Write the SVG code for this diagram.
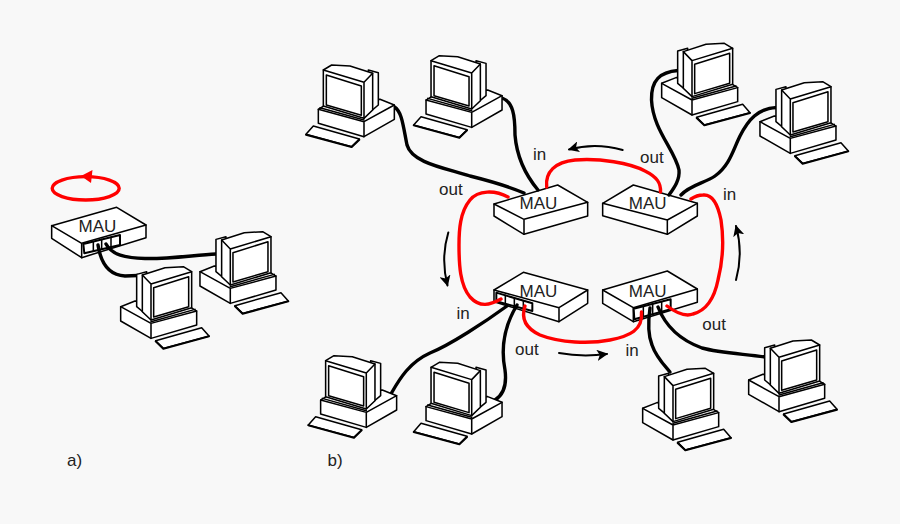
<svg xmlns="http://www.w3.org/2000/svg" width="900" height="524" viewBox="0 0 900 524">
<style>
text{font-family:"Liberation Sans",Arial,sans-serif;font-size:17px;fill:#222}
.s{fill:#fff;stroke:#000;stroke-width:4.6;stroke-linejoin:round;stroke-linecap:round}
.n{fill:none;stroke:#000;stroke-width:4.6;stroke-linejoin:round;stroke-linecap:round}
.th{fill:none;stroke:#000;stroke-width:6;stroke-linecap:round;stroke-linejoin:round}
.p{fill:#fff;stroke:#000;stroke-width:6;stroke-linejoin:round}
.cable{fill:none;stroke:#000;stroke-width:3.4;stroke-linecap:round}
.ring{fill:none;stroke:#f00;stroke-width:3.4;stroke-linecap:round}
.flow{fill:none;stroke:#000;stroke-width:2;stroke-linecap:round;marker-end:url(#ah)}
.z{transform:translate(430px,140px) scale(.33333)}
</style>
<defs>
<marker id="ah" viewBox="0 0 10 10" refX="9" refY="5" markerWidth="5.6" markerHeight="5.6" orient="auto" markerUnits="strokeWidth"><path d="M0,0L10,5L0,10L2.5,5Z" fill="#000"/></marker>
<g id="pc">
<path class="s" d="M18,253L40,228L178,267L155,290Z"/>
<path class="th" d="M18,254L155,291L178,269"/>
<path class="s" d="M55,178L55,220L192,260L283,208L283,165L240,148L100,150Z"/>
<path class="n" d="M55,178L192,215L283,165M192,215V260"/>
<path class="s" d="M205,60L235,68V165L205,190Z"/>
<path class="s" d="M70,60L95,45L150,48L218,70V180L192,205L70,168Z"/>
<path class="n" d="M70,60L192,97L218,70M192,97V205"/>
<path class="s" d="M79,75L184,108V196L79,165Z"/>
<path class="n" d="M60,173L192,210"/>
</g>
</defs>
<rect width="900" height="524" fill="#f8f8f8"/>

<g id="mau-a">
<g transform="translate(30,160) scale(.33333)">
<path class="s" d="M65,197L260,142L348,195V233L155,293L65,235Z"/>
<path class="n" d="M65,197L155,250L348,195M155,250V293"/>
<path class="p" d="M160,252L270,225V255L163,280Z"/>
<path class="n" d="M190,245V273M215,238V267M243,232V260"/>
</g>
<text x="78.5" y="232">MAU</text>
</g>
<g id="mau-tl">
<g class="z">
<path class="s" d="M192,192L383,135L473,187V228L282,283L192,228Z"/>
<path class="n" d="M192,192L282,238L473,187M282,238V283"/>
</g>
<text x="519.5" y="208.5">MAU</text>
</g>
<g id="mau-tr">
<g class="z">
<path class="s" d="M518,190L610,135L802,190V228L712,283L518,227Z"/>
<path class="n" d="M518,190L712,240L802,190M712,240V283"/>
</g>
<text x="628.8" y="208.5">MAU</text>
</g>
<g id="mau-bl">
<g class="z">
<path class="s" d="M192,450L280,397L473,450V490L387,545L192,485Z"/>
<path class="n" d="M192,450L387,503L473,450M387,503V545"/>
<path class="p" d="M199,458L307,490V513L199,484Z"/>
<path class="n" d="M226,466V492M253,474V500M280,482V507"/>
</g>
<text x="519.5" y="297">MAU</text>
</g>
<g id="mau-br">
<g class="z">
<path class="s" d="M518,450L712,393L802,447V487L610,545L518,490Z"/>
<path class="n" d="M518,450L610,503L802,447M610,503V545"/>
<path class="p" d="M611,506L722,478V508L613,538Z"/>
<path class="n" d="M640,499V530M668,492V523M695,485V515"/>
</g>
<text x="628.8" y="297">MAU</text>
</g>

<g id="connectors">
<path class="cable" d="M98,245C100,258 106,275 125,276L138,275.5"/>
<path class="cable" d="M106,244C112,255 125,258 145,258.5C170,259 195,255 216,254"/>
<path class="cable" d="M394.5,107C402,112 403,125 407,145C412,163 445,168 470,176C490,181 510,187 524,193"/>
<path class="cable" d="M502,98C513,102 515,115 515,135C517,160 528,178 538,190"/>
<path class="cable" d="M678,70.5C660,72 651,80 651.5,100C653,130 675,150 679,170C680,180 674,188 669,195"/>
<path class="cable" d="M777,107.5C758,108 748,120 740,136C733,150 730,165 715,176C705,183 690,185 681,195"/>
<path class="cable" d="M391.5,393C400,378 410,362 430,353C450,345 485,322 507,306"/>
<path class="cable" d="M495,400C503,395 507,385 505,370C500,345 505,325 517,305"/>
<path class="cable" d="M650,308C648,322 648,335 652,345C656,357 664,365 670,372"/>
<path class="cable" d="M658,307C665,325 680,340 702,348C720,353 745,354 765,357"/>
<path class="ring" d="M546.7,187C545,172 555,162 575,160C600,158 630,163 645,171C657,177 661,183 660.5,192"/>
<path class="ring" d="M508,197C495,190 478,190 470,200C460,212 459,230 459,245C459,265 460,285 470,297C480,308 490,305 501,299"/>
<path class="ring" d="M525,306C521,318 525,328 540,335C560,343 590,344 610,340C630,336 643,330 641.5,312"/>
<path class="ring" d="M667,306C675,312 685,317 693,314C708,310 715,295 718,280C723,260 724,240 721,220C718,205 712,194 703,195C697,195 694,197 691,199"/>
<ellipse class="ring" cx="85.7" cy="188.3" rx="33.5" ry="11.7"/>
<path d="M81,176L92.5,170L91,183Z" fill="#f00"/>
<path class="flow" d="M622.7,150C605,145 585,145 569,149.5"/>
<path class="flow" d="M448.3,232.5C443,250 443,268 447.5,285.5"/>
<path class="flow" d="M559,353C575,356 592,356 607,354"/>
<path class="flow" d="M736,280C741,262 741,244 736,226"/>
</g>

<g id="pc-a1"><use href="#pc" transform="translate(294.3,216.7) scale(-.33333,.33333)"/></g>
<g id="pc-a2"><use href="#pc" transform="translate(215,251.7) scale(-.33333,.33333)"/></g>
<g id="pc-1"><use href="#pc" transform="translate(300,50) scale(.33333)"/></g>
<g id="pc-2"><use href="#pc" transform="translate(407.7,40.7) scale(.33333)"/></g>
<g id="pc-3"><use href="#pc" transform="translate(756,28.3) scale(-.33333,.33333)"/></g>
<g id="pc-4"><use href="#pc" transform="translate(854.3,66.7) scale(-.33333,.33333)"/></g>
<g id="pc-5"><use href="#pc" transform="translate(302.3,340.7) scale(.33333)"/></g>
<g id="pc-6"><use href="#pc" transform="translate(407.7,347.3) scale(.33333)"/></g>
<g id="pc-7"><use href="#pc" transform="translate(737,353.3) scale(-.33333,.33333)"/></g>
<g id="pc-8"><use href="#pc" transform="translate(843,325) scale(-.33333,.33333)"/></g>

<g id="labels">
<text x="533" y="160">in</text>
<text x="640" y="163">out</text>
<text x="439" y="195">out</text>
<text x="723" y="200">in</text>
<text x="456.5" y="318.5">in</text>
<text x="515" y="355">out</text>
<text x="625.5" y="356">in</text>
<text x="702.3" y="330">out</text>
<text x="67" y="466">a)</text>
<text x="327.5" y="466">b)</text>
</g>
</svg>
